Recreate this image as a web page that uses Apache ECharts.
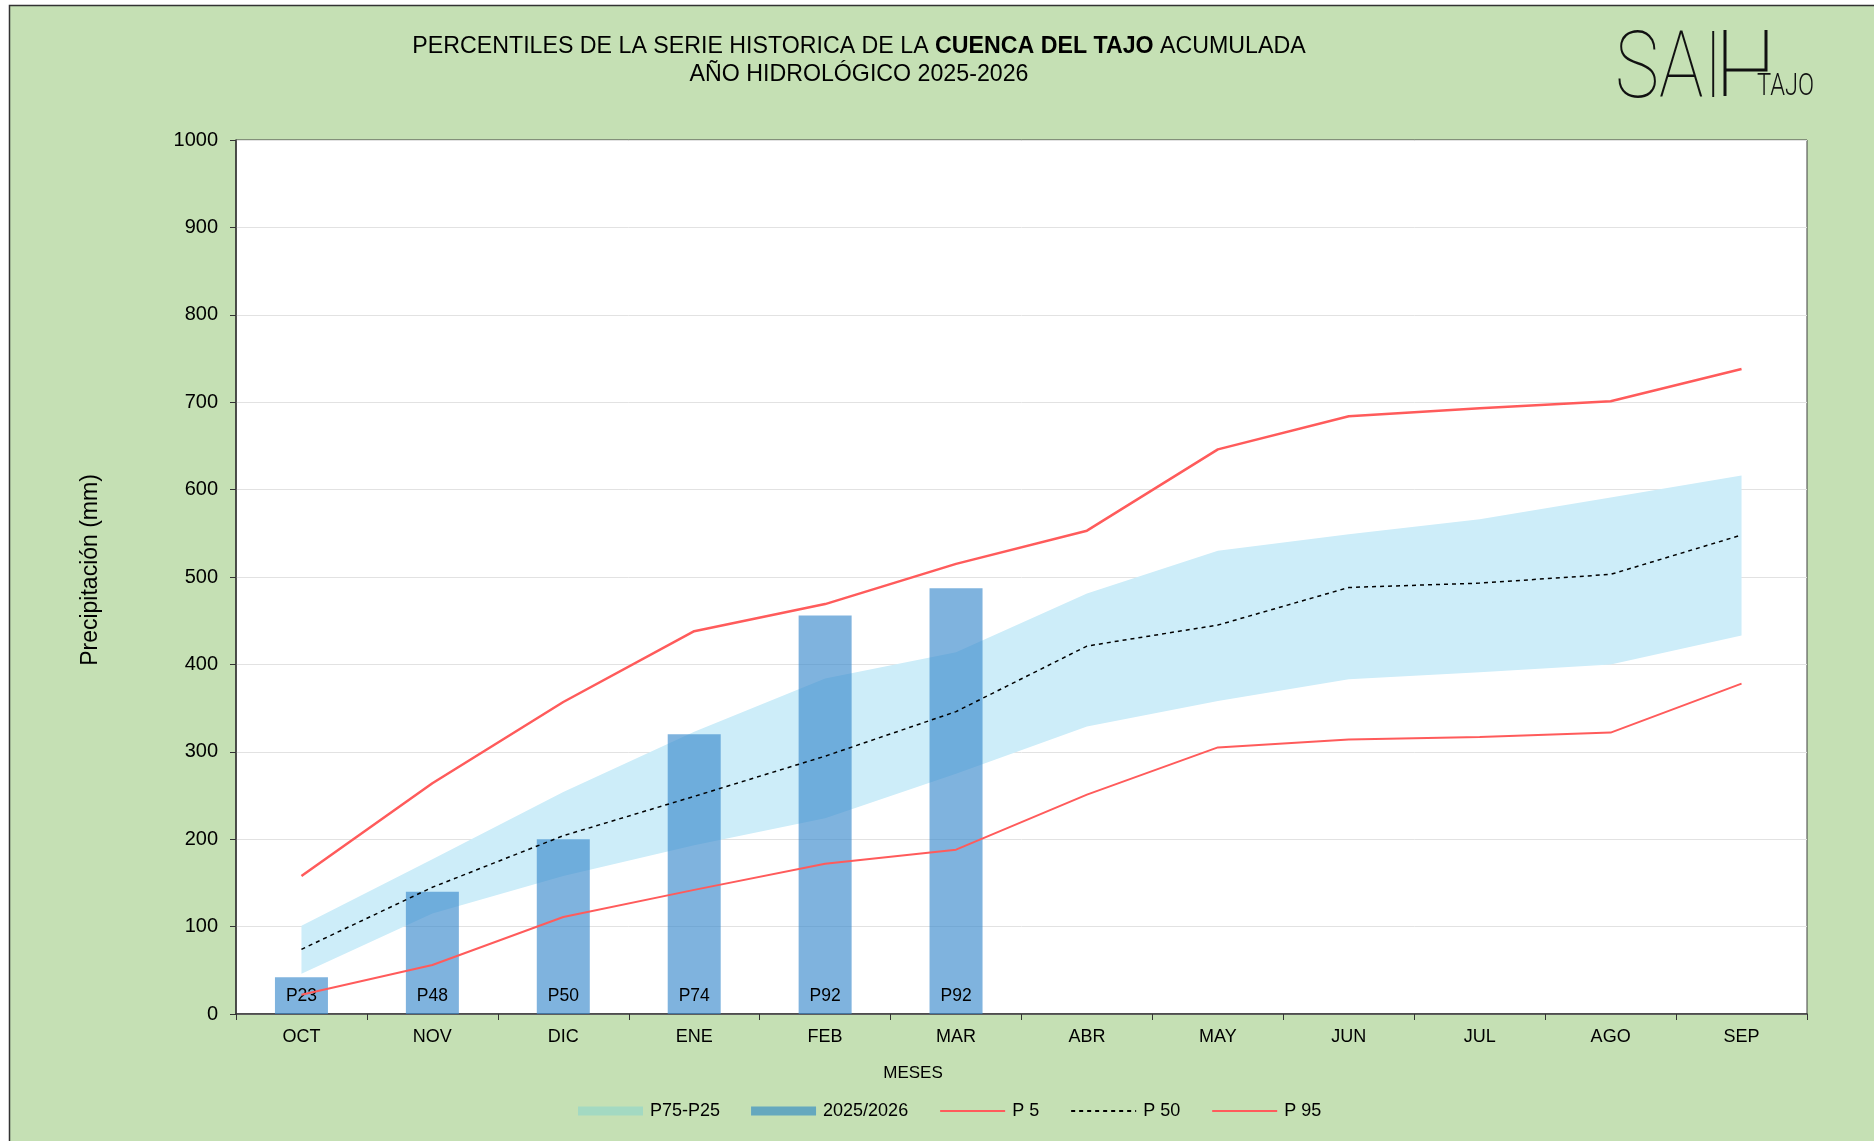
<!DOCTYPE html>
<html>
<head>
<meta charset="utf-8">
<script src="https://cdn.jsdelivr.net/npm/echarts@6/dist/echarts.min.js"></script>
<style>
  html, body { margin: 0; padding: 0; background: #fff; }
  #chart { width: 1874px; height: 1141px; }
</style>
</head>
<body>
<div id="chart"></div>
<script>
/* Percentiles de la serie historica - Cuenca del Tajo */

const MESES = ['OCT', 'NOV', 'DIC', 'ENE', 'FEB', 'MAR', 'ABR', 'MAY', 'JUN', 'JUL', 'AGO', 'SEP'];
const P5 = [22, 56, 111, 142, 172, 188, 251, 305, 314, 317, 322, 378];
const P25 = [46, 115, 158, 193, 224, 275, 329, 358, 383, 391, 400, 433];
const P50 = [74, 145, 204, 249, 295, 346, 421, 445, 488, 493, 503, 548];
const P75 = [101, 177, 254, 323, 384, 414, 481, 530, 549, 566, 591, 616];
const P95 = [158, 264, 357, 438, 469, 515, 553, 646, 684, 693, 701, 738];
const ACTUAL = [42, 140, 200, 320, 456, 487, null, null, null, null, null, null];
const PERCENTIL = ['P23', 'P48', 'P50', 'P74', 'P92', 'P92'];
const Y_TICKS = { min: 0, max: 1000, interval: 100 };

const FONT = 'Liberation Sans, Arial, sans-serif';

let banda = P75.map((v, i) => v - P25[i]);

let graphic = [
    {
        type: 'rect', z: -100, silent: true,
        shape: { x: 9.5, y: 5.5, width: 1880, height: 1150 },
        style: { fill: '#c5e0b4', stroke: '#333', lineWidth: 1.5 }
    },
    {
        type: 'text', x: 859, y: 33,
        style: {
            text: '{a|PERCENTILES DE LA SERIE HISTORICA DE LA }{b|CUENCA DEL TAJO}{a| ACUMULADA}\n{a|AÑO HIDROLÓGICO 2025-2026}',
            align: 'center', verticalAlign: 'top',
            rich: {
                a: { fontFamily: FONT, fontSize: 23.2, fill: '#000', lineHeight: 28, align: 'center' },
                b: { fontFamily: FONT, fontSize: 23.2, fontWeight: 'bold', fill: '#000', lineHeight: 28, align: 'center' }
            }
        }
    },
    // logo SAIH TAJO
    {
        type: 'text', x: 1615, y: 27, scaleX: 0.8,
        style: { text: 'SAI', fontFamily: 'Roboto', fontWeight: 100, fontSize: 93, fill: '#111', verticalAlign: 'top' }
    },
    {
        type: 'polyline',
        shape: { points: [[1725, 30], [1725, 96]] },
        style: { stroke: '#111', lineWidth: 3 }
    },
    {
        type: 'polyline',
        shape: { points: [[1725, 70], [1766, 70], [1766, 30]] },
        style: { stroke: '#111', lineWidth: 3, fill: null }
    },
    {
        type: 'text', x: 1757, y: 71, scaleX: 0.74,
        style: { text: 'TAJO', fontFamily: 'Roboto', fontWeight: 300, fontSize: 32, fill: '#111', verticalAlign: 'top' }
    },
    // axis names
    {
        type: 'text', x: 913, y: 1073,
        style: { text: 'MESES', fontFamily: FONT, fontSize: 17, fill: '#000', align: 'center', verticalAlign: 'middle' }
    },
    {
        type: 'text', x: 91, y: 570, rotation: Math.PI / 2,
        style: { text: 'Precipitación (mm)', fontFamily: FONT, fontSize: 23, fill: '#000', align: 'center', verticalAlign: 'middle' }
    }
];

let lineBase = { type: 'line', symbol: 'none', smooth: false, silent: true };

let series = [
    Object.assign({}, lineBase, {
        name: 'base', stack: 'banda', data: P25, z: 1,
        lineStyle: { width: 0, opacity: 0 }
    }),
    Object.assign({}, lineBase, {
        name: 'P75-P25', stack: 'banda', data: banda, z: 1,
        lineStyle: { width: 0, opacity: 0 },
        itemStyle: { color: '#cdedf9' },
        areaStyle: { color: '#cdedf9', opacity: 1 }
    }),
    {
        type: 'bar', name: '2025/2026', data: ACTUAL, barWidth: 53, silent: true, z: 2,
        itemStyle: { color: 'rgba(60,140,205,0.66)' },
        label: {
            show: true, position: 'insideBottom', distance: 9,
            fontFamily: FONT, fontSize: 17.5, color: '#000',
            formatter: p => PERCENTIL[p.dataIndex]
        }
    },
    Object.assign({}, lineBase, {
        name: 'P 5', data: P5, z: 3, itemStyle: { color: '#ff5b5b' },
        lineStyle: { color: '#ff5b5b', width: 2 }
    }),
    Object.assign({}, lineBase, {
        name: 'P 50', data: P50, z: 3, itemStyle: { color: '#000' },
        lineStyle: { color: '#000', width: 1.5, type: [4, 4] }
    }),
    Object.assign({}, lineBase, {
        name: 'P 95', data: P95, z: 3, itemStyle: { color: '#ff5b5b' },
        lineStyle: { color: '#ff5b5b', width: 2.5 }
    })
];

let hideDot = { opacity: 0, borderWidth: 0 };

let option = {
    backgroundColor: '#fff',
    animation: false,
    textStyle: { fontFamily: FONT },
    grid: {
        left: 236, right: 67, top: 140, bottom: 127,
        show: true, backgroundColor: '#fff', borderColor: '#404040', borderWidth: 1
    },
    xAxis: {
        type: 'category', data: MESES, boundaryGap: true,
        axisLine: { lineStyle: { color: '#333', width: 1.5 } },
        axisTick: { show: true, length: 6, lineStyle: { color: '#333' } },
        axisLabel: { margin: 14, fontSize: 18, color: '#000', fontFamily: FONT }
    },
    yAxis: {
        type: 'value', min: Y_TICKS.min, max: Y_TICKS.max, interval: Y_TICKS.interval,
        axisLine: { show: true, lineStyle: { color: '#333', width: 1.5 } },
        axisTick: { show: true, length: 6, lineStyle: { color: '#333' } },
        axisLabel: { margin: 18, fontSize: 20, color: '#000', fontFamily: FONT, formatter: v => String(v) },
        splitLine: { lineStyle: { color: '#e2e2e2', width: 1 } }
    },
    legend: {
        left: 573, top: 1097,
        itemWidth: 65, itemHeight: 9, itemGap: 31,
        textStyle: { fontSize: 18, color: '#000', fontFamily: FONT, padding: [0, 0, 0, 2] },
        selectedMode: false,
        data: [
            { name: 'P75-P25', icon: 'rect', itemStyle: { color: '#a3d9c2', borderWidth: 0 } },
            { name: '2025/2026', icon: 'rect', itemStyle: { color: '#65a8be', borderWidth: 0 } },
            { name: 'P 5', itemStyle: hideDot },
            { name: 'P 50', itemStyle: hideDot },
            { name: 'P 95', itemStyle: hideDot }
        ]
    },
    graphic: graphic,
    series: series
};

let chart = echarts.init(document.getElementById('chart'));
chart.setOption(option);
</script>
</body>
</html>
